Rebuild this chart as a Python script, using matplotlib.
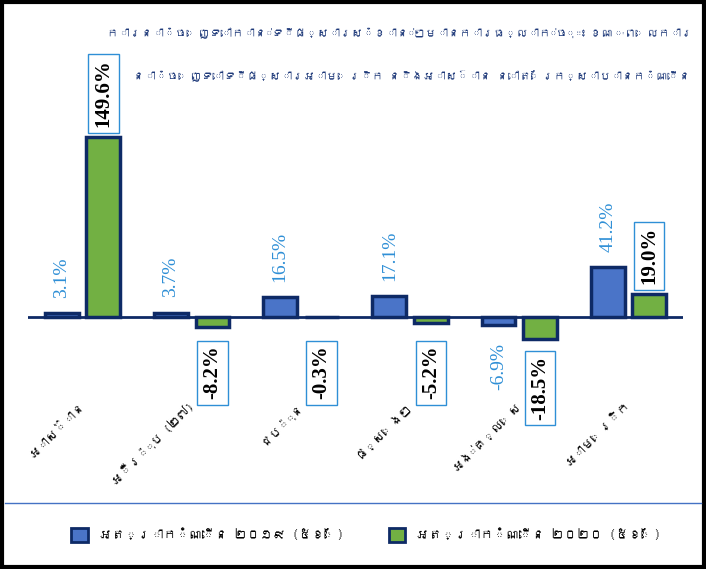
import numpy as np
import matplotlib
matplotlib.use("Agg")
import matplotlib.pyplot as plt
from matplotlib import font_manager
from matplotlib.ft2font import FT2Font
from matplotlib.patches import Patch, Rectangle
from matplotlib.lines import Line2D

# ---------------------------------------------------------------------------
# Data
# ---------------------------------------------------------------------------
title_lines = [
    "ការនាំចេញទៅកាន់ទីផ្សារសំខាន់ៗមានការធ្លាក់ចុះ ខណៈពេលការ",
    "នាំចេញទៅទីផ្សារអាមេរិក និងអាស៊ាន នៅតែរក្សាបានកំណើន",
]
categories = ["អាស៊ាន", "អឺរ៉ុប (២៧)", "ជប៉ុន", "ផ្សេងៗ", "អង់គ្លេស", "អាមេរិក"]
growth_2019 = [3.1, 3.7, 16.5, 17.1, -6.9, 41.2]
growth_2020 = [149.6, -8.2, -0.3, -5.2, -18.5, 19.0]
series_names = ["អត្រាកំណើន ២០១៩ (៥ខែ)", "អត្រាកំណើន ២០២០ (៥ខែ)"]


def find_khmer_family():
    """Pick an installed family that has Khmer glyphs, if any."""
    for path in font_manager.findSystemFonts():
        try:
            if 0x1780 in FT2Font(path).get_charmap():
                return font_manager.FontProperties(fname=path).get_name()
        except Exception:
            continue
    return None


kh = find_khmer_family()
KH_FAMILY = [kh, "DejaVu Sans"] if kh else ["DejaVu Sans"]
SERIF = ["Liberation Serif", "DejaVu Serif"]

COL_BLUE = "#4A74C8"
COL_GREEN = "#72B043"
COL_EDGE = "#0E2A66"
COL_LBL19 = "#2F8FD6"
COL_TITLE = "#1F3A7A"

# ---------------------------------------------------------------------------
# Figure
# ---------------------------------------------------------------------------
fig = plt.figure(figsize=(7.06, 5.69), dpi=100)
renderer = fig.canvas.get_renderer()


def fit_size(s, target_px, size_max, **kw):
    """Font size so that s is about target_px wide (no Khmer shaping here)."""
    t = fig.text(0, 0, s, fontsize=10, **kw)
    wpx = t.get_window_extent(renderer=renderer).width
    t.remove()
    return min(size_max, 10 * target_px / wpx)


ax = fig.add_axes([28 / 706, 1 - 395 / 569, 655 / 706, 375 / 569])

x = np.arange(len(categories))
w = 0.31
off = 0.19

ax.bar(x - off, growth_2019, width=w, color=COL_BLUE, edgecolor=COL_EDGE,
       linewidth=2.5, zorder=2)
ax.bar(x + off, growth_2020, width=w, color=COL_GREEN, edgecolor=COL_EDGE,
       linewidth=2.5, zorder=2)
ax.axhline(0, color=COL_EDGE, linewidth=2, zorder=3)

ax.set_xlim(-0.5, len(categories) - 0.5)
ax.set_ylim(-64.8, 246.9)
for s in ax.spines.values():
    s.set_visible(False)
ax.set_yticks([])
ax.set_xticks(x)
tick_size = fit_size(categories[1], 112, 14, family=KH_FAMILY)
ax.set_xticklabels(categories, rotation=45, ha="right", va="center",
                   rotation_mode="anchor", fontsize=tick_size, family=KH_FAMILY)
ax.tick_params(axis="x", length=0, pad=6)

# 2019 labels: plain blue serif
for xi, v in zip(x, growth_2019):
    dy = 11 if v >= 0 else -13
    ax.annotate(f"{v:.1f}%", xy=(xi - off, v), xytext=(0, dy),
                textcoords="offset points", rotation=90, ha="center",
                va="bottom" if v >= 0 else "top", fontsize=14,
                color=COL_LBL19, family=SERIF)

# 2020 labels: bold black in a boxed callout
for xi, v in zip(x, growth_2020):
    if v >= 0:
        y, dy, va = v, 7, "bottom"
    else:
        y, dy, va = min(v, -10), -12, "top"
    ax.annotate(f"{v:.1f}%", xy=(xi + off, y), xytext=(0, dy),
                textcoords="offset points", rotation=90, ha="center", va=va,
                fontsize=15, fontweight="bold", color="black", family=SERIF,
                bbox=dict(boxstyle="square,pad=0.25", facecolor="white",
                          edgecolor=COL_LBL19, linewidth=1))

# Title (wider than the shaped original so the unshaped Khmer stays legible)
title_kw = dict(fontweight="bold", style="italic", family=KH_FAMILY)
title_size = min(fit_size(title_lines[0], 600, 17, **title_kw),
                 fit_size(title_lines[1], 555, 17, **title_kw))
fig.text(400 / 706, 1 - 32 / 569, title_lines[0], ha="center", va="center",
         fontsize=title_size, color=COL_TITLE, **title_kw)
fig.text(412 / 706, 1 - 75 / 569, title_lines[1], ha="center", va="center",
         fontsize=title_size, color=COL_TITLE, **title_kw)

# Legend area
fig.add_artist(Line2D([5 / 706, 701 / 706], [1 - 503 / 569, 1 - 503 / 569],
                      transform=fig.transFigure, color="#4472C4", linewidth=1))
handles = [Patch(facecolor=COL_BLUE, edgecolor=COL_EDGE, linewidth=2),
           Patch(facecolor=COL_GREEN, edgecolor=COL_EDGE, linewidth=2)]
leg_size = fit_size(series_names[0], 245, 14, family=KH_FAMILY)
fig.legend(handles, series_names, loc="center",
           bbox_to_anchor=(366 / 706, 1 - 535 / 569),
           ncol=2, frameon=False, handlelength=1.3, handleheight=1.3,
           columnspacing=3.5, handletextpad=0.8,
           prop=font_manager.FontProperties(family=KH_FAMILY, size=leg_size))

# Outer frame
fig.add_artist(Rectangle((2 / 706, 2 / 569), 702 / 706, 565 / 569,
                         transform=fig.transFigure, fill=False,
                         edgecolor="black", linewidth=3))

fig.savefig("out.png", dpi=100)
plt.close(fig)
